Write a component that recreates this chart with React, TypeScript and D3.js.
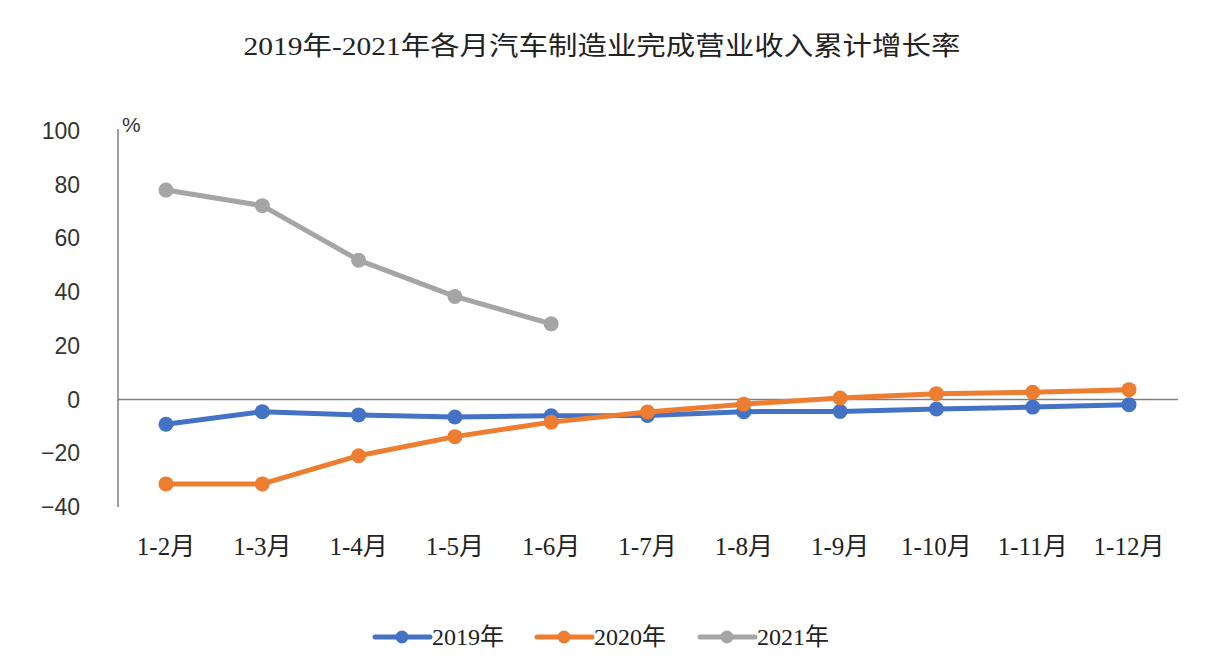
import React, {useEffect, useRef} from 'react';
import * as d3 from 'd3';

const title = '2019年-2021年各月汽车制造业完成营业收入累计增长率';
const months = ['1-2月', '1-3月', '1-4月', '1-5月', '1-6月', '1-7月', '1-8月', '1-9月', '1-10月', '1-11月', '1-12月'];
const yTicks = [-40, -20, 0, 20, 40, 60, 80, 100];

const s2019 = [-9.2, -4.5, -5.7, -6.5, -6.0, -5.9, -4.5, -4.4, -3.5, -2.8, -1.9];
const s2020 = [-31.4, -31.4, -20.9, -13.8, -8.4, -4.6, -1.7, 0.6, 2.2, 2.7, 3.7];
const s2021 = [78.0, 72.2, 51.9, 38.4, 28.2];

const seriesNames = ['2019年', '2020年', '2021年'];
const colors = ['#4472C4', '#ED7D31', '#A5A5A5'];

const FONT = "'Liberation Serif', 'Noto Sans CJK SC', serif";

const App: React.FC = () => {
  const ref = useRef<SVGSVGElement>(null);

  useEffect(() => {
    const svg = d3.select(ref.current);
    svg.selectAll('*').remove();

    const x = d3.scalePoint<string>().domain(months).range([166, 1129]);
    const y = d3.scaleLinear().domain([-40, 100]).range([507, 131]);

    svg.append('rect').attr('width', 1224).attr('height', 668).attr('fill', '#fff');

    svg.append('text')
      .attr('x', 602).attr('y', 55)
      .attr('text-anchor', 'middle')
      .attr('textLength', 717).attr('lengthAdjust', 'spacingAndGlyphs')
      .style('font-family', FONT).style('font-size', '26px').style('fill', '#222')
      .text(title);

    // axes
    svg.append('line')
      .attr('x1', 118).attr('x2', 118).attr('y1', y(100) - 2).attr('y2', y(-40))
      .attr('stroke', '#7f7f7f').attr('stroke-width', 1.5);
    svg.append('line')
      .attr('x1', 118).attr('x2', 1178).attr('y1', y(0)).attr('y2', y(0))
      .attr('stroke', '#7f7f7f').attr('stroke-width', 1.5);

    svg.append('text')
      .attr('x', 122).attr('y', 132)
      .style('font-family', "'Liberation Sans', sans-serif").style('font-size', '21px').style('fill', '#333')
      .text('%');

    svg.selectAll('.ytick').data(yTicks).join('text')
      .attr('class', 'ytick')
      .attr('x', 80).attr('y', d => y(d)).attr('dy', '0.35em')
      .attr('text-anchor', 'end')
      .style('font-family', "'Liberation Sans', sans-serif").style('font-size', '23px').style('fill', '#333')
      .text(d => d < 0 ? '−' + Math.abs(d) : String(d));

    svg.selectAll('.xtick').data(months).join('text')
      .attr('class', 'xtick')
      .attr('x', d => x(d)!).attr('y', 555)
      .attr('text-anchor', 'middle')
      .style('font-family', FONT).style('font-size', '25px').style('fill', '#222')
      .text(d => d);

    const all = [s2019, s2020, s2021];
    const line = d3.line<number>().x((_, i) => x(months[i])!).y(d => y(d));

    all.forEach((vals, k) => {
      svg.append('path')
        .attr('d', line(vals)!)
        .attr('fill', 'none').attr('stroke', colors[k]).attr('stroke-width', 5)
        .attr('stroke-linejoin', 'round');
      svg.selectAll(`.pt${k}`).data(vals).join('circle')
        .attr('class', `pt${k}`)
        .attr('cx', (_, i) => x(months[i])!).attr('cy', d => y(d))
        .attr('r', 7.5).attr('fill', colors[k]);
    });

    // legend
    const legendX = [375, 537, 700];
    seriesNames.forEach((name, k) => {
      const g = svg.append('g').attr('transform', `translate(${legendX[k]},637)`);
      g.append('line').attr('x1', 0).attr('x2', 55).attr('y1', 0).attr('y2', 0)
        .attr('stroke', colors[k]).attr('stroke-width', 5).attr('stroke-linecap', 'round');
      g.append('circle').attr('cx', 27).attr('cy', 0).attr('r', 6.5).attr('fill', colors[k]);
      g.append('text').attr('x', 57).attr('y', 0).attr('dy', '0.35em')
        .style('font-family', FONT).style('font-size', '24px').style('fill', '#222')
        .text(name);
    });
  }, []);

  return (
    <div style={{position: 'absolute', left: 0, top: 0}}>
      <svg ref={ref} width={1224} height={668} style={{display: 'block'}}/>
    </div>
  );
};

export default App;
